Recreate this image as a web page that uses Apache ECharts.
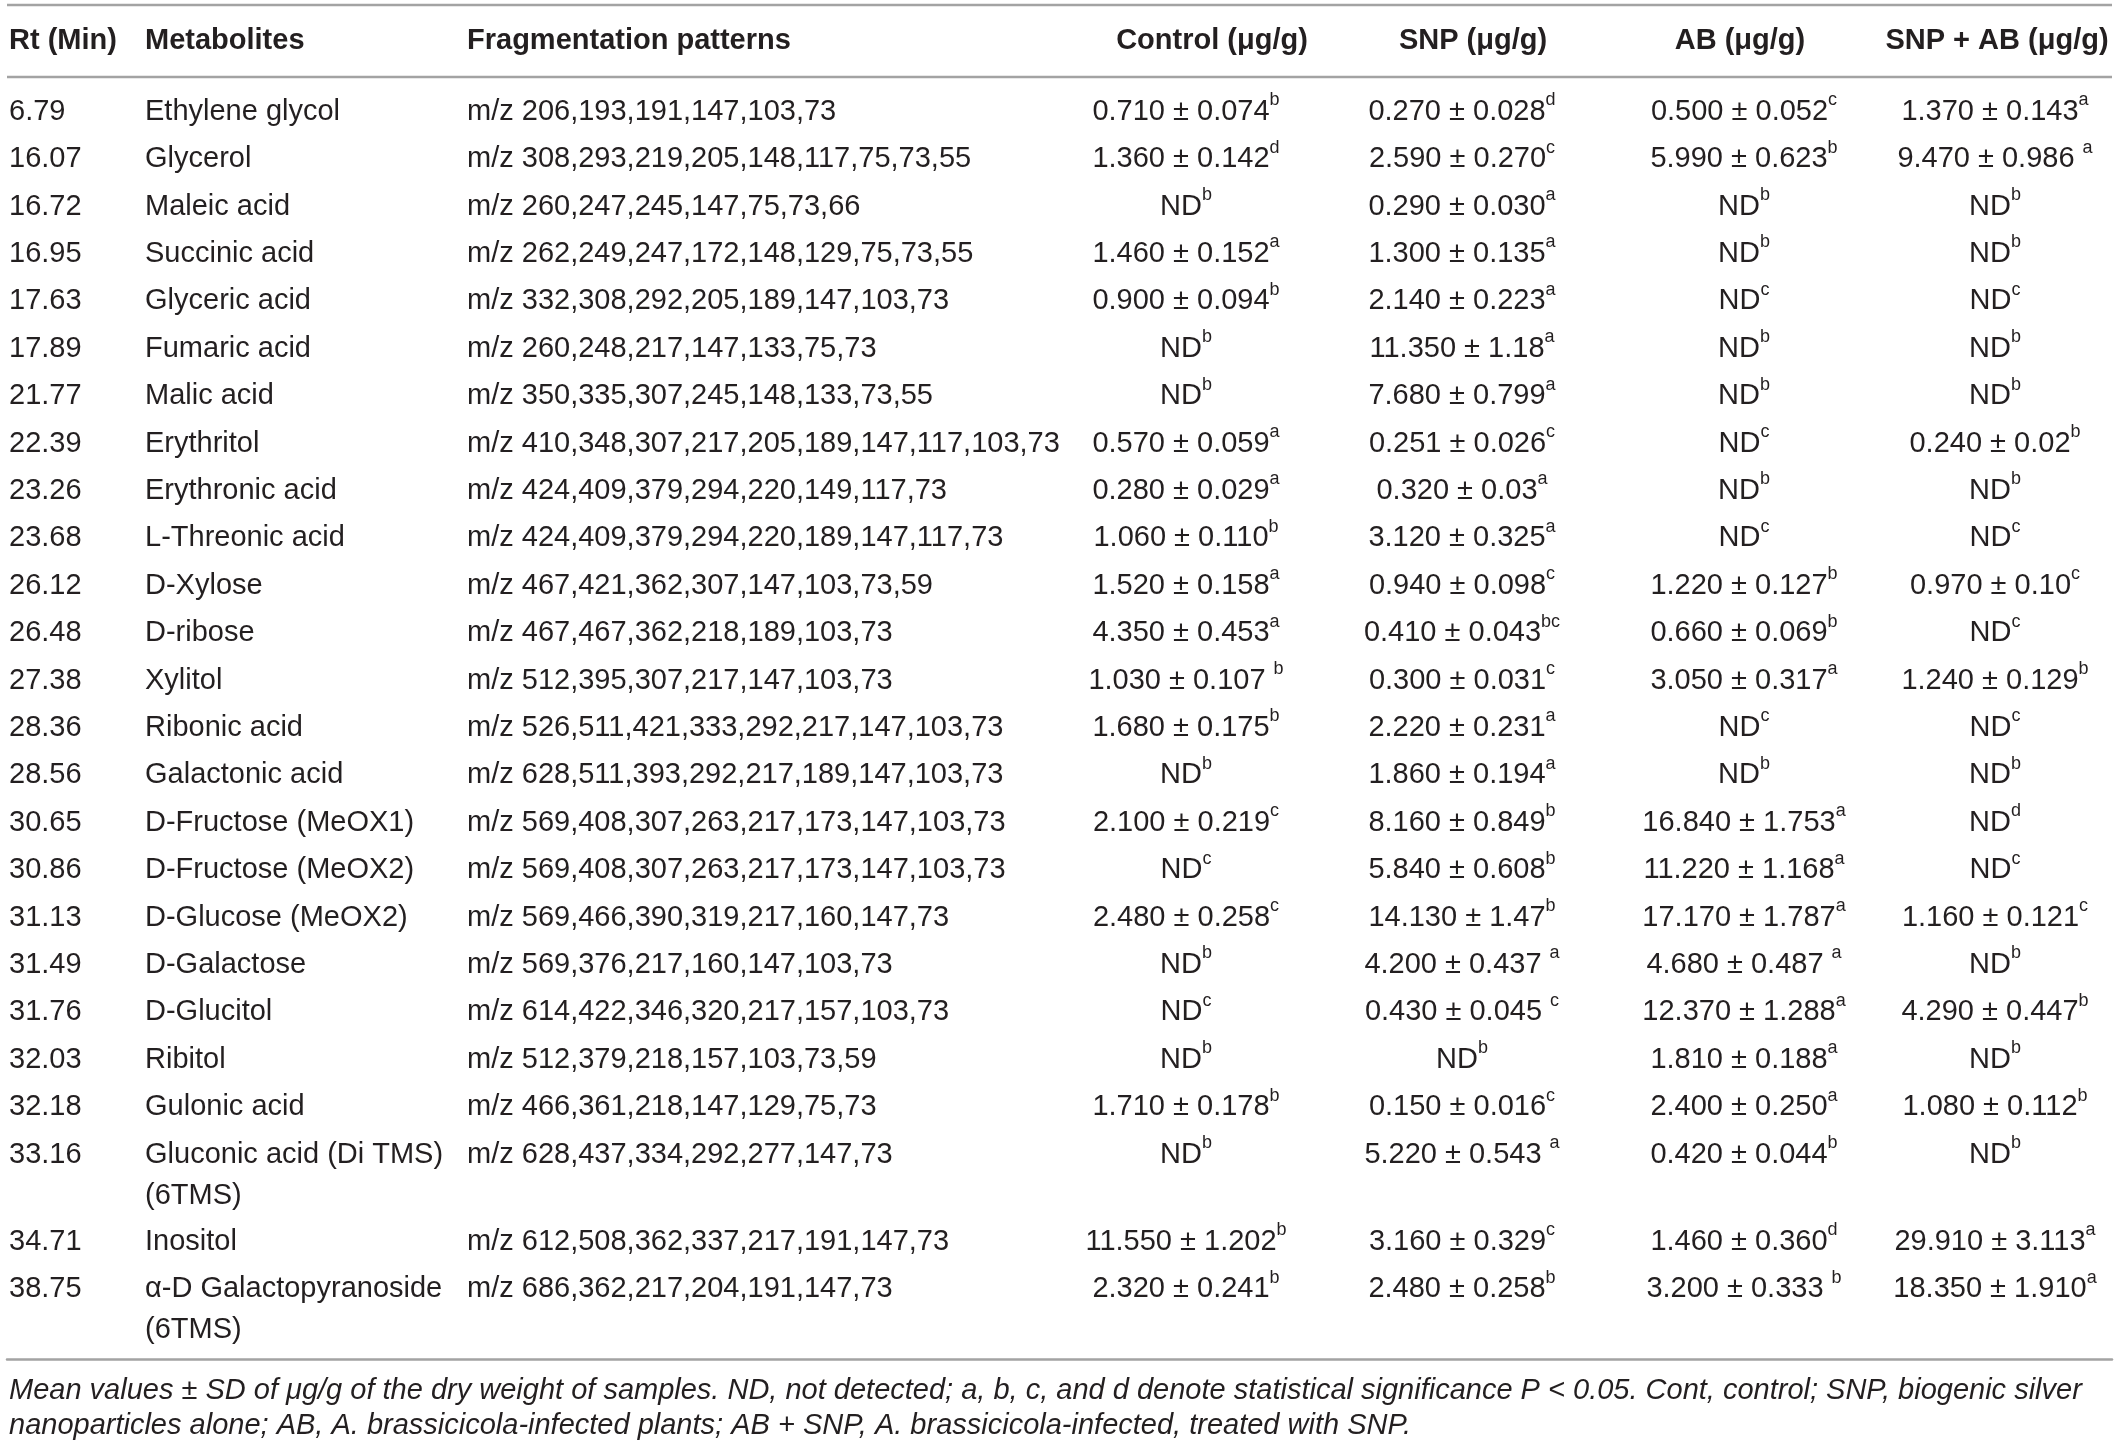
<!DOCTYPE html>
<html>
<head>
<meta charset="utf-8">
<script src="https://cdn.jsdelivr.net/npm/echarts@6/dist/echarts.min.js"></script>
<style>
    html, body { margin: 0; padding: 0; background: #fff; }
    #main { width: 2119px; height: 1448px; }
</style>
</head>
<body>
<div id="main"></div>
<script>
// table content
var headers = ['Rt (Min)', 'Metabolites', 'Fragmentation patterns', 'Control (\u03bcg/g)', 'SNP (\u03bcg/g)', 'AB (\u03bcg/g)', 'SNP + AB (\u03bcg/g)'];

var rtMin = ['6.79', '16.07', '16.72', '16.95', '17.63', '17.89', '21.77', '22.39', '23.26', '23.68', '26.12', '26.48', '27.38',
    '28.36', '28.56', '30.65', '30.86', '31.13', '31.49', '31.76', '32.03', '32.18', '33.16', '34.71', '38.75'];

var metabolites = ['Ethylene glycol', 'Glycerol', 'Maleic acid', 'Succinic acid', 'Glyceric acid', 'Fumaric acid', 'Malic acid',
    'Erythritol', 'Erythronic acid', 'L-Threonic acid', 'D-Xylose', 'D-ribose', 'Xylitol', 'Ribonic acid', 'Galactonic acid',
    'D-Fructose (MeOX1)', 'D-Fructose (MeOX2)', 'D-Glucose (MeOX2)', 'D-Galactose', 'D-Glucitol', 'Ribitol', 'Gulonic acid',
    'Gluconic acid (Di TMS)\n(6TMS)', 'Inositol', '\u03b1-D Galactopyranoside\n(6TMS)'];

var fragments = [
    'm/z 206,193,191,147,103,73',
    'm/z 308,293,219,205,148,117,75,73,55',
    'm/z 260,247,245,147,75,73,66',
    'm/z 262,249,247,172,148,129,75,73,55',
    'm/z 332,308,292,205,189,147,103,73',
    'm/z 260,248,217,147,133,75,73',
    'm/z 350,335,307,245,148,133,73,55',
    'm/z 410,348,307,217,205,189,147,117,103,73',
    'm/z 424,409,379,294,220,149,117,73',
    'm/z 424,409,379,294,220,189,147,117,73',
    'm/z 467,421,362,307,147,103,73,59',
    'm/z 467,467,362,218,189,103,73',
    'm/z 512,395,307,217,147,103,73',
    'm/z 526,511,421,333,292,217,147,103,73',
    'm/z 628,511,393,292,217,189,147,103,73',
    'm/z 569,408,307,263,217,173,147,103,73',
    'm/z 569,408,307,263,217,173,147,103,73',
    'm/z 569,466,390,319,217,160,147,73',
    'm/z 569,376,217,160,147,103,73',
    'm/z 614,422,346,320,217,157,103,73',
    'm/z 512,379,218,157,103,73,59',
    'm/z 466,361,218,147,129,75,73',
    'm/z 628,437,334,292,277,147,73',
    'm/z 612,508,362,337,217,191,147,73',
    'm/z 686,362,217,204,191,147,73'
];

// "^" marks the significance letter (superscript)
var control = ['0.710 ± 0.074^b', '1.360 ± 0.142^d', 'ND^b', '1.460 ± 0.152^a', '0.900 ± 0.094^b', 'ND^b', 'ND^b',
    '0.570 ± 0.059^a', '0.280 ± 0.029^a', '1.060 ± 0.110^b', '1.520 ± 0.158^a', '4.350 ± 0.453^a', '1.030 ± 0.107 ^b',
    '1.680 ± 0.175^b', 'ND^b', '2.100 ± 0.219^c', 'ND^c', '2.480 ± 0.258^c', 'ND^b', 'ND^c', 'ND^b', '1.710 ± 0.178^b',
    'ND^b', '11.550 ± 1.202^b', '2.320 ± 0.241^b'];

var snp = ['0.270 ± 0.028^d', '2.590 ± 0.270^c', '0.290 ± 0.030^a', '1.300 ± 0.135^a', '2.140 ± 0.223^a', '11.350 ± 1.18^a',
    '7.680 ± 0.799^a', '0.251 ± 0.026^c', '0.320 ± 0.03^a', '3.120 ± 0.325^a', '0.940 ± 0.098^c', '0.410 ± 0.043^bc',
    '0.300 ± 0.031^c', '2.220 ± 0.231^a', '1.860 ± 0.194^a', '8.160 ± 0.849^b', '5.840 ± 0.608^b', '14.130 ± 1.47^b',
    '4.200 ± 0.437 ^a', '0.430 ± 0.045 ^c', 'ND^b', '0.150 ± 0.016^c', '5.220 ± 0.543 ^a', '3.160 ± 0.329^c', '2.480 ± 0.258^b'];

var ab = ['0.500 ± 0.052^c', '5.990 ± 0.623^b', 'ND^b', 'ND^b', 'ND^c', 'ND^b', 'ND^b', 'ND^c', 'ND^b', 'ND^c',
    '1.220 ± 0.127^b', '0.660 ± 0.069^b', '3.050 ± 0.317^a', 'ND^c', 'ND^b', '16.840 ± 1.753^a', '11.220 ± 1.168^a',
    '17.170 ± 1.787^a', '4.680 ± 0.487 ^a', '12.370 ± 1.288^a', '1.810 ± 0.188^a', '2.400 ± 0.250^a', '0.420 ± 0.044^b',
    '1.460 ± 0.360^d', '3.200 ± 0.333 ^b'];

var snpAb = ['1.370 ± 0.143^a', '9.470 ± 0.986 ^a', 'ND^b', 'ND^b', 'ND^c', 'ND^b', 'ND^b', '0.240 ± 0.02^b', 'ND^b', 'ND^c',
    '0.970 ± 0.10^c', 'ND^c', '1.240 ± 0.129^b', 'ND^c', 'ND^b', 'ND^d', 'ND^c', '1.160 ± 0.121^c', 'ND^b', '4.290 ± 0.447^b',
    'ND^b', '1.080 ± 0.112^b', 'ND^b', '29.910 ± 3.113^a', '18.350 ± 1.910^a'];

var footnote = [
    'Mean values ± SD of \u03bcg/g of the dry weight of samples. ND, not detected; a, b, c, and d denote statistical significance P < 0.05. Cont, control; SNP, biogenic silver',
    'nanoparticles alone; AB, A. brassicicola-infected plants; AB + SNP, A. brassicicola-infected, treated with SNP.'
];

(function () {
    var FONT = '"Liberation Sans", Arial, sans-serif';
    var INK = '#231f20';
    var RULE = '#a3a3a3';
    var FS = 29;
    var LH = 41;

    var columns = [rtMin, metabolites, fragments, control, snp, ab, snpAb];
    // column anchors in table units (px from the left rule), left or centre aligned
    var colX = [2, 138, 460, 1179, 1455, 1737, 1988];
    var colAlign = ['left', 'left', 'left', 'center', 'center', 'center', 'center'];
    var headX = [2, 138, 460, 1205, 1466, 1733, 1990];

    // row slots: wrapped rows get an extra partial slot
    var rowStart = [];
    var total = 0;
    for (var i = 0; i < rtMin.length; i++) {
        rowStart.push(total);
        var lines = metabolites[i].split('\n').length;
        total += 1 + (lines - 1) * 0.84;
    }

    function cellText(s) {
        var k = s.indexOf('^');
        if (k < 0) return '{n|' + s + '}';
        return '{n|' + s.slice(0, k) + '}{s|' + s.slice(k + 1) + '}';
    }

    var rich = {
        n: {fontFamily: FONT, fontSize: FS, lineHeight: LH, color: INK},
        s: {fontFamily: FONT, fontSize: 18, lineHeight: 31, verticalAlign: 'top', color: INK}
    };

    var rows = [];
    for (var r = 0; r < rtMin.length; r++) rows.push([r]);

    // header rules, header labels and the footnote
    var graphics = [
        {type: 'line', shape: {x1: 7, y1: 5, x2: 2112, y2: 5}, style: {stroke: RULE, lineWidth: 2.5}},
        {type: 'line', shape: {x1: 7, y1: 77, x2: 2112, y2: 77}, style: {stroke: RULE, lineWidth: 2.5}}
    ];
    headers.forEach(function (h, c) {
        graphics.push({
            type: 'text', x: 7 + headX[c], y: 41,
            style: {
                text: h, fill: INK, font: 'bold ' + FS + 'px ' + FONT,
                align: c < 3 ? 'left' : 'center', verticalAlign: 'middle'
            }
        });
    });
    graphics.push({
        type: 'text', x: 9, y: 1373,
        style: {
            text: footnote.join('\n'), fill: INK, font: 'italic 29px ' + FONT,
            lineHeight: 35, align: 'left', verticalAlign: 'top'
        }
    });

    var option = {
        animation: false,
        backgroundColor: '#fff',
        graphic: graphics,
        grid: {left: 7, right: 7, top: 88, height: (total + 0.15) * 47.4},
        xAxis: {
            type: 'value', min: 0, max: 2105,
            axisLine: {show: true, onZero: false, lineStyle: {color: RULE, width: 2.5}},
            axisTick: {show: false}, axisLabel: {show: false}, splitLine: {show: false}
        },
        yAxis: {
            type: 'value', inverse: true, min: 0, max: total + 0.15, show: false
        },
        series: [{
            type: 'custom',
            data: rows,
            clip: false,
            renderItem: function (params, api) {
                var i = api.value(0);
                var y = api.coord([0, rowStart[i] + 0.5])[1] - LH / 2;
                var children = [];
                for (var c = 0; c < columns.length; c++) {
                    var x = api.coord([colX[c], 0])[0];
                    var v = columns[c][i];
                    var style = c < 3 ? {
                        text: v, fill: INK, fontFamily: FONT, fontSize: FS, lineHeight: LH,
                        align: colAlign[c], verticalAlign: 'top'
                    } : {
                        text: cellText(v), rich: rich, fill: INK, fontFamily: FONT, fontSize: FS,
                        align: colAlign[c], verticalAlign: 'top'
                    };
                    children.push({type: 'text', x: x, y: y, style: style});
                }
                return {type: 'group', children: children};
            }
        }]
    };

    var chart = echarts.init(document.getElementById('main'));
    chart.setOption(option);
})();
</script>
</body>
</html>
